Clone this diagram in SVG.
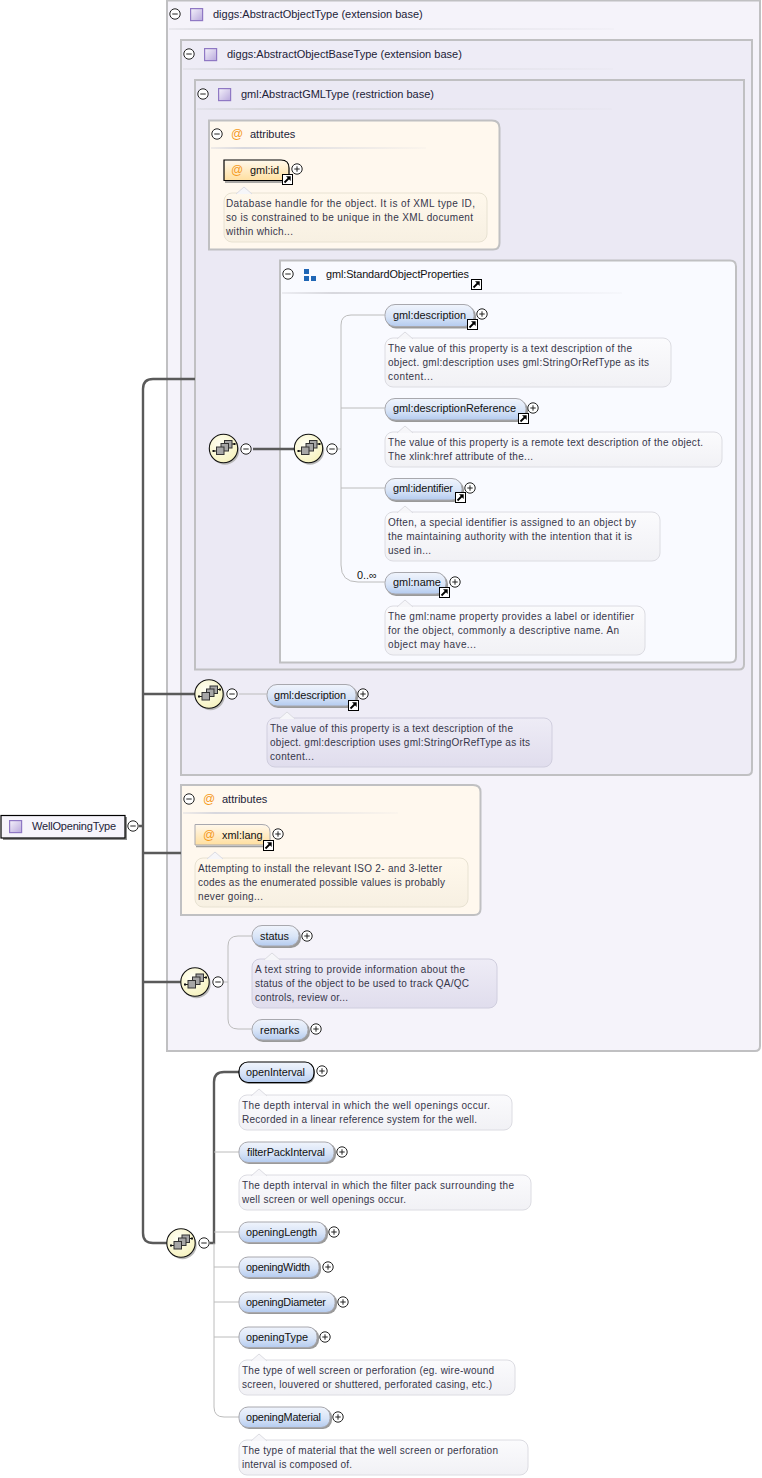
<svg xmlns="http://www.w3.org/2000/svg" width="762" height="1478" viewBox="0 0 762 1478">
<style>
text{font-family:"Liberation Sans",Arial,sans-serif;font-size:10.9px;fill:#111}
.n{font-size:10px;fill:#36364a}
.h{fill:#222238;font-size:11px}
.box{stroke:#c0c0c2;stroke-width:2}
.thin{fill:none;stroke:#bcbcbc;stroke-width:1}
.thick{fill:none;stroke:#5a5a5a;stroke-width:2.4}
.el{fill:url(#gb);stroke:#a8a8ae;stroke-width:1}
.elk{fill:url(#gb);stroke:#000;stroke-width:1.2}
.sh{fill:#9a9a9a}
.note{fill:url(#gn);stroke:#dcdce2;stroke-width:1}
.notep{fill:url(#gp);stroke:#d0cede;stroke-width:1}
.notey{fill:url(#gy);stroke:#e8e2d2;stroke-width:1}
.at{font-size:12px;fill:#f59a1c}
</style>
<defs>
<linearGradient id="gb" x1="0" y1="0" x2="0" y2="1"><stop offset="0" stop-color="#f0f4fc"/><stop offset=".55" stop-color="#d8e4f7"/><stop offset="1" stop-color="#b4cbef"/></linearGradient>
<linearGradient id="go" x1="0" y1="0" x2="0" y2="1"><stop offset="0" stop-color="#fff8ec"/><stop offset="1" stop-color="#ffdf9f"/></linearGradient>
<linearGradient id="gn" x1="0" y1="0" x2="0" y2="1"><stop offset="0" stop-color="#fbfbfd"/><stop offset="1" stop-color="#f1f1f5"/></linearGradient>
<linearGradient id="gp" x1="0" y1="0" x2="0" y2="1"><stop offset="0" stop-color="#eeecf6"/><stop offset="1" stop-color="#e0dded"/></linearGradient>
<linearGradient id="gy" x1="0" y1="0" x2="0" y2="1"><stop offset="0" stop-color="#fff8ec"/><stop offset="1" stop-color="#f7f0e2"/></linearGradient>
<linearGradient id="gi" x1="0" y1="0" x2="1" y2="1"><stop offset="0" stop-color="#f5f2fb"/><stop offset="1" stop-color="#b9a9dc"/></linearGradient>
<linearGradient id="gl" x1="0" y1="0" x2="1" y2="0"><stop offset="0" stop-color="#d8d8de" stop-opacity=".4"/><stop offset=".15" stop-color="#d8d8de"/><stop offset="1" stop-color="#d8d8de" stop-opacity=".1"/></linearGradient>
<radialGradient id="gs" cx=".4" cy=".35" r=".7"><stop offset="0" stop-color="#fffff4"/><stop offset="1" stop-color="#f6f2bd"/></radialGradient>
<g id="minus"><circle r="5.2" fill="#fff" stroke="#222" stroke-width="1"/><path d="M-2.700 0H2.700" stroke="#222" stroke-width="1"/></g>
<g id="plus"><circle r="5.2" fill="#fff" stroke="#222" stroke-width="1"/><path d="M-2.700 0H2.700M0-2.700V2.700" stroke="#222" stroke-width="1"/></g>
<g id="link"><rect x=".5" y=".5" width="10" height="10" fill="#fff" stroke="#000"/><path d="M2.500 8.500L7 4" stroke="#000" stroke-width="1.800"/><path d="M4 2.300H8.700V7Z" fill="#000"/></g>
<rect id="icon" x=".6" y=".6" width="12" height="12" fill="url(#gi)" stroke="#8f78c4" stroke-width="1.200"/>
<g id="seq"><circle cx="1.500" cy="2" r="14.200" fill="#b8b8b8"/><circle r="14.200" fill="url(#gs)" stroke="#111" stroke-width="1.100"/>
<path d="M-10.500 2.500H-7M8-4.500H10.500" stroke="#111"/><rect x="-11" y="1.500" width="2" height="2" fill="#111"/><rect x="10" y="-5.500" width="2" height="2" fill="#111"/>
<rect x="1" y="-8" width="7.500" height="7.500" fill="#a6a6a6" stroke="#333"/><rect x="-2.500" y="-5" width="7.500" height="7.500" fill="#a6a6a6" stroke="#333"/><rect x="-7" y="-1.500" width="7.500" height="7.500" fill="#a6a6a6" stroke="#333"/></g>
<path id="ptr" d="M0 0L8-7L16 0" fill="#f6f6f9" stroke="#dcdce2"/>
</defs>
<rect width="762" height="1478" fill="#fff"/>

<g id="box-abstract-object">
<path class="box" fill="#f5f3fa" d="M167 .5H760V1046Q760 1051 755 1051H167Z"/>
<rect x="169" y="28" width="445" height="2" fill="url(#gl)"/>
<use href="#minus" x="175" y="14"/><use href="#icon" x="190" y="8"/><text class="h" x="213" y="18">diggs:AbstractObjectType (extension base)</text>
</g>
<g id="box-abstract-object-base">
<path class="box" fill="#eeecf6" d="M181 40H752V770Q752 775 747 775H181Z"/>
<rect x="183" y="68" width="430" height="2" fill="url(#gl)"/>
<use href="#minus" x="189" y="54"/><use href="#icon" x="204" y="48"/><text class="h" x="227" y="58">diggs:AbstractObjectBaseType (extension base)</text>
</g>
<g id="box-abstract-gml">
<path class="box" fill="#ebe9f4" d="M195 80H744V664.500Q744 669.500 739 669.500H195Z"/>
<rect x="197" y="108" width="415" height="2" fill="url(#gl)"/>
<use href="#minus" x="203" y="94"/><use href="#icon" x="218" y="88"/><text class="h" x="241" y="98">gml:AbstractGMLType (restriction base)</text>
</g>
<g id="box-attributes-1">
<path class="box" fill="#fff8ee" d="M209 120.500H492Q499.500 120.500 499.500 128V243Q499.500 249.500 493 249.500H209Z"/>
<rect x="211" y="147" width="215" height="2" fill="url(#gl)"/>
<use href="#minus" x="217" y="134"/><text class="at" x="231" y="138">@</text><text class="h" x="250" y="138">attributes</text>
</g>
<g id="node-gml-id">
<path fill="url(#go)" stroke="#000" stroke-width="1.200" d="M224 160H281Q289 160 289 168V180.500H224Z"/>
<path d="M225 182H290" stroke="#8c8c8c" stroke-width="1.500"/>
<text class="at" x="231" y="174">@</text><text x="250" y="174">gml:id</text>
<use href="#link" x="282" y="174"/><use href="#plus" x="297" y="169"/>
<rect class="notey" x="224" y="193" width="263" height="49" rx="8"/><use href="#ptr" x="236" y="194" style="fill:#fff8ec"/>
<text class="n" x="226" y="207" textLength="249">Database handle for the object. It is of XML type ID,</text>
<text class="n" x="226" y="221" textLength="247">so is constrained to be unique in the XML document</text>
<text class="n" x="226" y="235" textLength="67">within which...</text>
</g>
<g id="box-standard-object-properties">
<path class="box" fill="#f9faff" d="M280 260.500H730Q736 260.500 736 266.500V657Q736 662.500 730 662.500H280Z"/>
<rect x="282" y="292" width="340" height="2" fill="url(#gl)"/>
<use href="#minus" x="288" y="274"/>
<path d="M304 269h5v5h-5zM304 276h5v5h-5zM311 276h5v5h-5z" fill="#1f66b5"/>
<text x="326" y="278" textLength="143">gml:StandardObjectProperties</text><use href="#link" x="471" y="279"/>
</g>
<g id="node-description-1">
<rect class="sh" x="386" y="306" width="90" height="22.500" rx="10"/><rect class="el" x="385" y="304.500" width="89" height="22" rx="10"/>
<text x="393" y="319" textLength="73">gml:description</text><use href="#link" x="467" y="319"/><use href="#plus" x="482" y="314"/>
<rect class="note" x="385" y="338" width="286" height="49" rx="8"/><use href="#ptr" x="397" y="339"/>
<text class="n" x="388" y="352" textLength="244">The value of this property is a text description of the</text>
<text class="n" x="388" y="366" textLength="261">object. gml:description uses gml:StringOrRefType as its</text>
<text class="n" x="388" y="380" textLength="45">content...</text>
</g>
<g id="node-description-reference">
<rect class="sh" x="386" y="400" width="142" height="22" rx="10"/><rect class="el" x="385" y="398.500" width="141" height="21.500" rx="10"/>
<text x="393" y="412" textLength="123">gml:descriptionReference</text><use href="#link" x="518" y="413"/><use href="#plus" x="533" y="408"/>
<rect class="note" x="385" y="432" width="337" height="35" rx="8"/><use href="#ptr" x="397" y="433"/>
<text class="n" x="388" y="446" textLength="315">The value of this property is a remote text description of the object.</text>
<text class="n" x="388" y="460" textLength="145">The xlink:href attribute of the...</text>
</g>
<g id="node-identifier">
<rect class="sh" x="386" y="480" width="78" height="22" rx="10"/><rect class="el" x="385" y="478.500" width="77" height="21.500" rx="10"/>
<text x="393" y="492" textLength="60">gml:identifier</text><use href="#link" x="455" y="492"/><use href="#plus" x="470" y="488"/>
<rect class="note" x="385" y="512" width="275" height="49" rx="8"/><use href="#ptr" x="397" y="513"/>
<text class="n" x="388" y="526" textLength="248">Often, a special identifier is assigned to an object by</text>
<text class="n" x="388" y="540" textLength="244">the maintaining authority with the intention that it is</text>
<text class="n" x="388" y="554" textLength="43">used in...</text>
</g>
<g id="node-name">
<rect class="sh" x="386" y="574" width="62" height="22" rx="10"/><rect class="el" x="385" y="572.500" width="61" height="21.500" rx="10"/>
<text x="393" y="586">gml:name</text><use href="#link" x="439" y="587"/><use href="#plus" x="455" y="582"/>
<rect class="note" x="385" y="606" width="260" height="49" rx="8"/><use href="#ptr" x="397" y="607"/>
<text class="n" x="388" y="620" textLength="246">The gml:name property provides a label or identifier</text>
<text class="n" x="388" y="634" textLength="231">for the object, commonly a descriptive name. An</text>
<text class="n" x="388" y="648" textLength="88">object may have...</text>
</g>
<g id="node-description-2">
<rect class="sh" x="268" y="686" width="90" height="22" rx="10"/><rect class="el" x="267" y="684.500" width="89" height="21.500" rx="10"/>
<text x="274" y="699" textLength="72">gml:description</text><use href="#link" x="348" y="700"/><use href="#plus" x="363" y="694"/>
<rect class="notep" x="267" y="718" width="285" height="49" rx="8"/><use href="#ptr" x="279" y="719" style="fill:#eeecf6"/>
<text class="n" x="270" y="732" textLength="243">The value of this property is a text description of the</text>
<text class="n" x="270" y="746" textLength="260">object. gml:description uses gml:StringOrRefType as its</text>
<text class="n" x="270" y="760" textLength="44">content...</text>
</g>
<g id="box-attributes-2">
<path class="box" fill="#fff8ee" d="M181 785H473Q480.500 785 480.500 792V909Q480.500 915 474 915H181Z"/>
<rect x="183" y="812" width="215" height="2" fill="url(#gl)"/>
<use href="#minus" x="189" y="799"/><text class="at" x="203" y="803">@</text><text class="h" x="222" y="803">attributes</text>
</g>
<g id="node-xml-lang">
<path fill="url(#go)" stroke="#a8a8ae" d="M195 824.500H262Q270 824.500 270 832V845H195Z"/>
<path d="M196 846.500H271" stroke="#a0a0a0" stroke-width="1.500"/>
<text class="at" x="203" y="839">@</text><text x="222" y="839">xml:lang</text>
<use href="#link" x="263" y="840"/><use href="#plus" x="278" y="834"/>
<rect class="notey" x="195" y="858" width="273" height="49" rx="8"/><use href="#ptr" x="207" y="859" style="fill:#fff8ec"/>
<text class="n" x="198" y="872" textLength="244">Attempting to install the relevant ISO 2- and 3-letter</text>
<text class="n" x="198" y="886" textLength="247">codes as the enumerated possible values is probably</text>
<text class="n" x="198" y="900" textLength="65">never going...</text>
</g>
<g id="node-status">
<rect class="sh" x="253" y="927" width="48" height="21" rx="10"/><rect class="el" x="252" y="925.500" width="47" height="20.500" rx="10"/>
<text x="260" y="940">status</text><use href="#plus" x="307" y="936"/>
<rect class="notep" x="252" y="959" width="245" height="49" rx="8"/><use href="#ptr" x="264" y="960" style="fill:#eeecf6"/>
<text class="n" x="255" y="973" textLength="210">A text string to provide information about the</text>
<text class="n" x="255" y="987" textLength="214">status of the object to be used to track QA/QC</text>
<text class="n" x="255" y="1001" textLength="93">controls, review or...</text>
</g>
<g id="node-remarks">
<rect class="sh" x="253" y="1021" width="57" height="21" rx="10"/><rect class="el" x="252" y="1019.500" width="56" height="20.500" rx="10"/>
<text x="260" y="1034">remarks</text><use href="#plus" x="316" y="1029"/>
</g>

<g id="connectors">
<path class="thick" d="M195 379H153Q143 379 143 389V1233Q143 1243 153 1243H167"/>
<path class="thick" d="M139 826H143M143 694H195M143 853H181M143 982H181M253 449H295"/>
<path class="thin" d="M338 449H341M385 315H351Q341 315 341 325V565Q341 582 358 582H385M341 408H385M341 488H385"/>
<path class="thin" d="M239 694H267"/>
<path class="thin" d="M224 982H228M252 936H238Q228 936 228 946V1019Q228 1029 238 1029H252"/>
<path class="thick" d="M210 1243H214V1082Q214 1072 224 1072H239"/>
<path class="thin" d="M214 1243V1407Q214 1417 224 1417H239M214 1152H239M214 1232H239M214 1267H239M214 1302H239M214 1337H239"/>
<text x="357" y="579">0..∞</text>
</g>
<g id="seq-1"><use href="#seq" x="223.500" y="448.500"/><use href="#minus" x="246" y="449"/></g>
<g id="seq-2"><use href="#seq" x="308.500" y="448.500"/><use href="#minus" x="332" y="449"/></g>
<g id="seq-3"><use href="#seq" x="209" y="694"/><use href="#minus" x="232" y="694"/></g>
<g id="seq-4"><use href="#seq" x="195" y="982"/><use href="#minus" x="218" y="982"/></g>
<g id="seq-5"><use href="#seq" x="181" y="1243"/><use href="#minus" x="204" y="1243"/></g>

<g id="node-root">
<rect x="3" y="817" width="124" height="23" fill="#8c8c8c"/>
<rect x="1" y="815.500" width="124" height="22.500" fill="#f6f4fb" stroke="#000" stroke-width="1.200"/>
<use href="#icon" x="9" y="820"/><text class="h" x="32" y="830" textLength="84">WellOpeningType</text><use href="#minus" x="133" y="826"/>
</g>
<g id="node-open-interval">
<rect class="sh" x="240" y="1063" width="75" height="21" rx="9"/><rect class="elk" x="239" y="1062" width="75" height="20.500" rx="9"/>
<text x="246" y="1076" textLength="59">openInterval</text><use href="#plus" x="322" y="1071"/>
<rect class="note" x="239" y="1095" width="273" height="35" rx="8"/><use href="#ptr" x="251" y="1096"/>
<text class="n" x="242" y="1109" textLength="248">The depth interval in which the well openings occur.</text>
<text class="n" x="242" y="1123" textLength="235">Recorded in a linear reference system for the well.</text>
</g>
<g id="node-filter-pack-interval">
<rect class="sh" x="240" y="1143" width="96" height="21" rx="9"/><rect class="el" x="239" y="1142" width="95" height="20.500" rx="9"/>
<text x="247" y="1156" textLength="78">filterPackInterval</text><use href="#plus" x="342" y="1152"/>
<rect class="note" x="239" y="1175" width="292" height="35" rx="8"/><use href="#ptr" x="251" y="1176"/>
<text class="n" x="242" y="1189" textLength="272">The depth interval in which the filter pack surrounding the</text>
<text class="n" x="242" y="1203" textLength="164">well screen or well openings occur.</text>
</g>
<g id="node-opening-length">
<rect class="sh" x="240" y="1223" width="88" height="21" rx="9"/><rect class="el" x="239" y="1222" width="87" height="20.500" rx="9"/>
<text x="246" y="1236" textLength="71">openingLength</text><use href="#plus" x="334" y="1232"/>
</g>
<g id="node-opening-width">
<rect class="sh" x="240" y="1258" width="81" height="21" rx="9"/><rect class="el" x="239" y="1257" width="80" height="20.500" rx="9"/>
<text x="246" y="1271" textLength="64">openingWidth</text><use href="#plus" x="328" y="1267"/>
</g>
<g id="node-opening-diameter">
<rect class="sh" x="240" y="1293" width="97" height="21" rx="9"/><rect class="el" x="239" y="1292" width="96" height="20.500" rx="9"/>
<text x="246" y="1306" textLength="80">openingDiameter</text><use href="#plus" x="343" y="1302"/>
</g>
<g id="node-opening-type">
<rect class="sh" x="240" y="1328" width="79" height="21" rx="9"/><rect class="el" x="239" y="1327" width="78" height="20.500" rx="9"/>
<text x="246" y="1341" textLength="62">openingType</text><use href="#plus" x="325" y="1337"/>
<rect class="note" x="239" y="1360" width="276" height="35" rx="8"/><use href="#ptr" x="251" y="1361"/>
<text class="n" x="242" y="1374" textLength="252">The type of well screen or perforation (eg. wire-wound</text>
<text class="n" x="242" y="1388" textLength="250">screen, louvered or shuttered, perforated casing, etc.)</text>
</g>
<g id="node-opening-material">
<rect class="sh" x="240" y="1408" width="92" height="21" rx="9"/><rect class="el" x="239" y="1407" width="91" height="20.500" rx="9"/>
<text x="246" y="1421" textLength="75">openingMaterial</text><use href="#plus" x="338" y="1417"/>
<rect class="note" x="239" y="1440" width="289" height="35" rx="8"/><use href="#ptr" x="251" y="1441"/>
<text class="n" x="242" y="1454" textLength="256">The type of material that the well screen or perforation</text>
<text class="n" x="242" y="1468" textLength="110">interval is composed of.</text>
</g>
</svg>
